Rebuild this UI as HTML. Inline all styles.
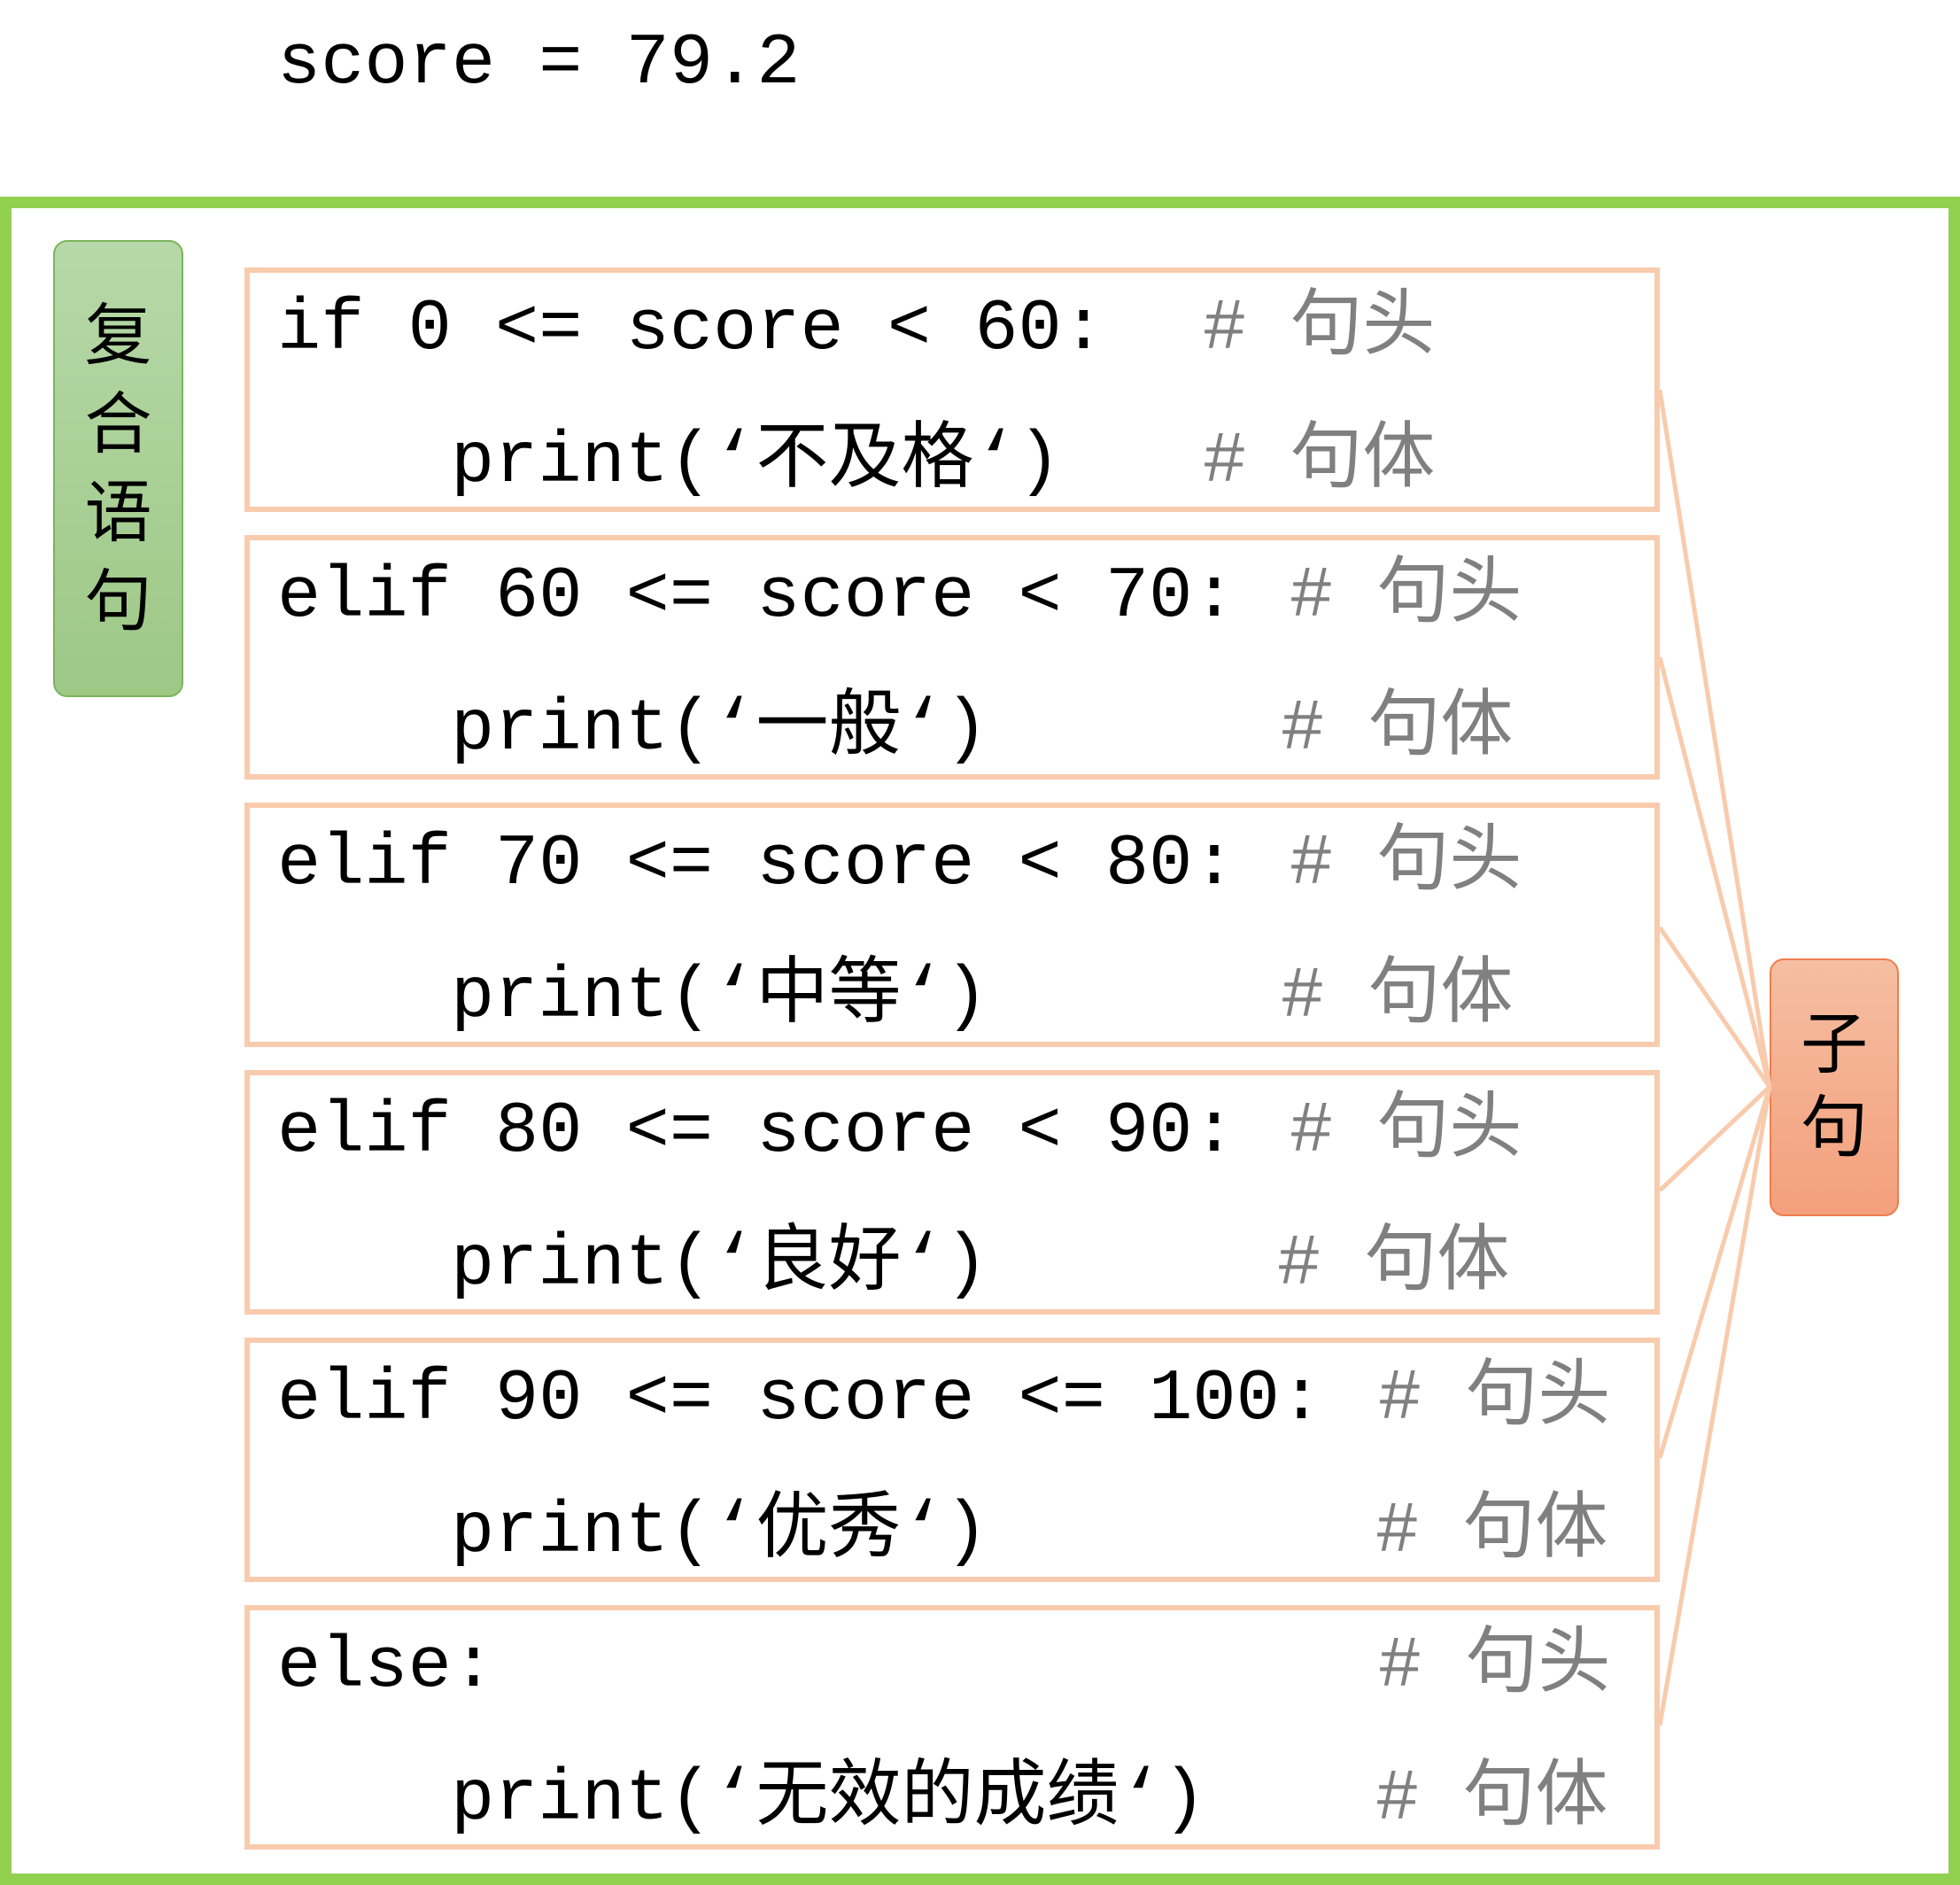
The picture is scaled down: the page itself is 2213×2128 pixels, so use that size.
<!DOCTYPE html>
<html><head><meta charset="utf-8"><style>
body{margin:0;width:2213px;height:2128px;background:#fff;position:relative;overflow:hidden;font-family:"Liberation Mono","Noto Sans CJK SC",monospace;}
.t{position:absolute;font-size:82px;line-height:82px;white-space:pre;color:#000;}
.c{color:#808080;}
.box{position:absolute;left:276px;width:1586px;height:264px;border:6px solid #f8cbad;}
.cj{position:absolute;font-family:"Noto Sans CJK SC",sans-serif;font-size:76px;line-height:100px;width:100%;text-align:center;color:#000;}
</style></head><body>
<div class="t" style="left:313px;top:31px">score = 79.2</div>
<div style="position:absolute;left:0;top:222px;width:2213px;height:1906px;box-sizing:border-box;border:13px solid #92d050;border-bottom-width:13px"></div>
<div style="position:absolute;left:60px;top:271px;width:143px;height:512px;border:2px solid #7ab55c;border-radius:16px;background:linear-gradient(#b7d8a8,#9dc886)">
<div class="cj" style="top:49px">复</div><div class="cj" style="top:149px">合</div><div class="cj" style="top:249px">语</div><div class="cj" style="top:349px">句</div>
</div>
<div style="position:absolute;left:1998px;top:1082px;width:142px;height:287px;border:2px solid #ee7d4f;border-radius:16px;background:linear-gradient(#f5bea2,#f4a07c)">
<div class="cj" style="top:38px">子</div><div class="cj" style="top:132px">句</div>
</div>
<svg width="2213" height="2128" style="position:absolute;left:0;top:0" fill="none" stroke="#f8cbad" stroke-width="5">
<line x1="1874" y1="440" x2="1998" y2="1227"/>
<line x1="1874" y1="742" x2="1998" y2="1227"/>
<line x1="1874" y1="1047" x2="1998" y2="1227"/>
<line x1="1874" y1="1344" x2="1998" y2="1227"/>
<line x1="1874" y1="1646" x2="1998" y2="1227"/>
<line x1="1874" y1="1948" x2="1998" y2="1227"/>
</svg>
<div class="box" style="top:302px"></div>
<div class="box" style="top:604px"></div>
<div class="box" style="top:906px"></div>
<div class="box" style="top:1208px"></div>
<div class="box" style="top:1510px"></div>
<div class="box" style="top:1812px"></div>

<div class="t" style="left:313px;top:331px">if 0 &lt;= score &lt; 60:</div>
<div class="t" style="left:509px;top:481px">print(‘不及格‘)</div>
<div class="t c" style="left:1358px;top:331px"># 句头</div>
<div class="t c" style="left:1358px;top:481px"># 句体</div>

<div class="t" style="left:313px;top:633px">elif 60 &lt;= score &lt; 70:</div>
<div class="t" style="left:509px;top:783px">print(‘一般‘)</div>
<div class="t c" style="left:1456px;top:633px"># 句头</div>
<div class="t c" style="left:1446px;top:783px"># 句体</div>

<div class="t" style="left:313px;top:935px">elif 70 &lt;= score &lt; 80:</div>
<div class="t" style="left:509px;top:1085px">print(‘中等‘)</div>
<div class="t c" style="left:1456px;top:935px"># 句头</div>
<div class="t c" style="left:1446px;top:1085px"># 句体</div>

<div class="t" style="left:313px;top:1237px">elif 80 &lt;= score &lt; 90:</div>
<div class="t" style="left:509px;top:1387px">print(‘良好‘)</div>
<div class="t c" style="left:1456px;top:1237px"># 句头</div>
<div class="t c" style="left:1442px;top:1387px"># 句体</div>

<div class="t" style="left:313px;top:1539px">elif 90 &lt;= score &lt;= 100:</div>
<div class="t" style="left:509px;top:1689px">print(‘优秀‘)</div>
<div class="t c" style="left:1556px;top:1539px"># 句头</div>
<div class="t c" style="left:1553px;top:1689px"># 句体</div>

<div class="t" style="left:313px;top:1841px">else:</div>
<div class="t" style="left:509px;top:1991px">print(‘无效的成绩‘)</div>
<div class="t c" style="left:1556px;top:1841px"># 句头</div>
<div class="t c" style="left:1553px;top:1991px"># 句体</div>
</body></html>
